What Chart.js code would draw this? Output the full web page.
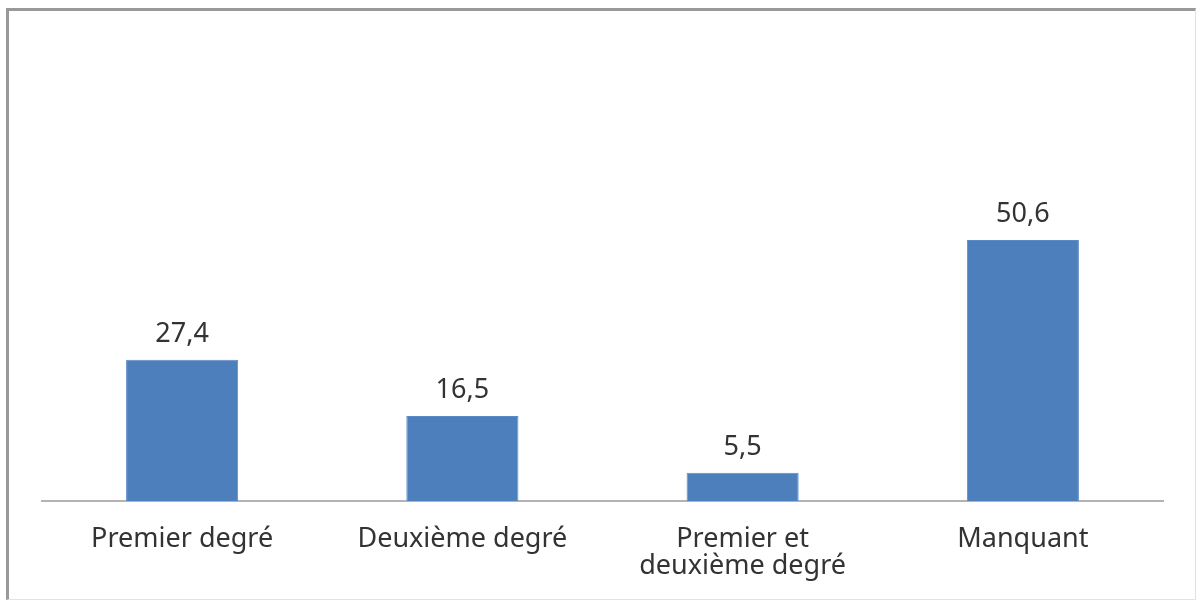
<!DOCTYPE html>
<html>
<head>
<meta charset="utf-8">
<script src="https://cdn.jsdelivr.net/npm/chart.js@4"></script>
<style>
  html, body { margin: 0; padding: 0; background: #fff; }
  #wrap { position: relative; width: 1196px; height: 602px; }
  #frame {
    position: absolute; left: 6px; top: 8px; right: 0; bottom: 2px;
    border-left: 3px solid #999; border-top: 3px solid #999;
    border-right: 1px solid #e2e2e2; border-bottom: 1px solid #e2e2e2;
    pointer-events: none;
  }
</style>
</head>
<body>
<div id="wrap">
  <canvas id="bars" width="1196" height="602"></canvas>
  <div id="frame"></div>
</div>
<script>
const categories = ['Premier degré', 'Deuxième degré', ['Premier et', 'deuxième degré'], 'Manquant'];
const values = [27.4, 16.5, 5.5, 50.6];

const textColor = '#333333';
const fontFamily = '"Noto Sans", "Open Sans", sans-serif';

// value labels above each bar, French decimal comma
const valueLabels = {
    id: 'valueLabels',
    afterDatasetsDraw(chart) {
        const ctx = chart.ctx;
        const meta = chart.getDatasetMeta(0);
        ctx.save();
        ctx.font = '27px ' + fontFamily;
        ctx.fillStyle = textColor;
        ctx.textAlign = 'center';
        ctx.textBaseline = 'alphabetic';
        meta.data.forEach((bar, i) => {
            const txt = values[i].toFixed(1).replace('.', ',');
            ctx.fillText(txt, bar.x, bar.y - 18);
        });
        ctx.restore();
    }
};

new Chart(document.getElementById('bars').getContext('2d'), {
    type: 'bar',
    data: {
        labels: categories,
        datasets: [{
            data: values,
            backgroundColor: '#4d7fbc',
            borderColor: '#5a8bc6',
            borderWidth: 1,
            categoryPercentage: 1,
            barPercentage: 0.4
        }]
    },
    options: {
        responsive: false,
        animation: false,
        layout: { padding: { left: 42, right: 33, top: 191.5, bottom: 0 } },
        plugins: { legend: { display: false }, tooltip: { enabled: false } },
        scales: {
            x: {
                grid: { display: false, drawTicks: false },
                border: { display: true, color: '#b3b3b3', width: 2 },
                ticks: {
                    color: textColor,
                    padding: 25,
                    maxRotation: 0,
                    autoSkip: false,
                    font: { family: fontFamily, size: 27, lineHeight: 1.0 }
                },
                afterFit: s => { s.height = 101; }
            },
            y: {
                display: false,
                min: 0,
                max: 60
            }
        }
    },
    plugins: [valueLabels]
});
</script>
</body>
</html>
